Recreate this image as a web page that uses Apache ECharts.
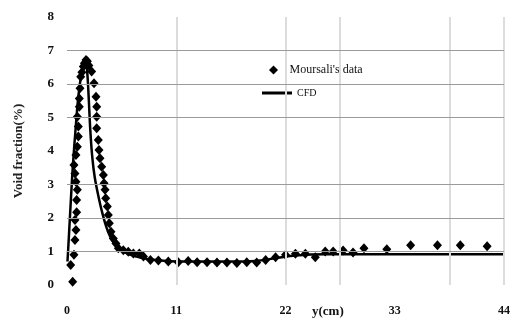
<!DOCTYPE html>
<html><head><meta charset="utf-8">
<script src="https://cdn.jsdelivr.net/npm/echarts@6/dist/echarts.min.js"></script>
<style>html,body{margin:0;padding:0;background:#fff}#c{width:520px;height:320px}</style>
</head><body><div id="c"></div>
<script>
const xTickLabels = [0, 11, 22, 33, 44];
const yTickLabels = [0, 1, 2, 3, 4, 5, 6, 7, 8];
const hGridValues = [1, 2, 3, 5, 6, 7];
const vGridValues = [11, 22, 27.5, 38.5, 44];

const moursaliX = [0.57,0.37,0.7,0.8,0.9,0.8,0.97,0.97,1.04,0.9,0.8,0.7,0.9,1.04,1.14,1.14,1.04,1.24,1.24,1.31,1.38,1.5,1.64,1.75,1.91,2.05,2.2,2.48,2.72,2.92,2.99,2.99,2.99,3.15,3.22,3.32,3.49,3.66,3.73,3.83,3.9,4.06,4.16,4.26,4.43,4.66,4.93,5.17,5.67,6.17,6.68,7.28,7.7,8.4,9.2,10.2,11.2,12.2,13.1,14.1,15.1,16.1,17.1,18.1,19.1,20.0,21.0,22.0,23.0,24.0,25.0,26.0,26.8,27.8,28.8,29.9,32.2,34.6,37.3,39.6,42.3];
const moursaliY = [0.1,0.6,0.9,1.34,1.64,1.94,2.17,2.54,2.84,3.08,3.33,3.58,3.88,4.13,4.43,4.73,5.02,5.32,5.57,5.87,6.22,6.35,6.52,6.62,6.72,6.68,6.55,6.37,6.02,5.62,5.32,5.02,4.68,4.33,4.03,3.78,3.53,3.28,3.04,2.84,2.59,2.34,2.09,1.84,1.59,1.39,1.24,1.1,1.04,0.99,0.94,0.94,0.85,0.75,0.73,0.7,0.68,0.72,0.68,0.68,0.67,0.67,0.66,0.68,0.67,0.75,0.83,0.9,0.93,0.93,0.83,1.0,1.0,1.03,0.97,1.1,1.07,1.19,1.19,1.19,1.16];

const cfdX = [0.05,0.2,0.4,0.6,0.85,1.1,1.4,1.7,1.9,2.05,2.2,2.35,2.55,2.8,3.2,3.6,4.0,4.5,5.0,6,7,8,10,12,16,19,21,23,26,44];
const cfdY = [0.7,1.5,2.6,3.6,4.6,5.5,6.2,6.55,6.6,6.3,5.5,4.6,3.8,3.2,2.6,2.1,1.7,1.35,1.15,0.95,0.85,0.78,0.72,0.7,0.7,0.72,0.8,0.88,0.92,0.92];

const serif = "'Liberation Serif','DejaVu Serif',serif";
const scatterData = moursaliX.map((x, i) => [x, moursaliY[i]]);
const lineData = cfdX.map((x, i) => [x, cfdY[i]]);

const chart = echarts.init(document.getElementById('c'), null, {renderer: 'canvas'});
chart.setOption({
  animation: false,
  backgroundColor: '#fff',
  grid: {left: 67, right: 16, top: 17, bottom: 35},
  xAxis: {
    type: 'value', min: 0, max: 44, interval: 11,
    axisLine: {show: false}, axisTick: {show: false}, splitLine: {show: false},
    axisLabel: {margin: 20, color: '#111', fontFamily: serif, fontWeight: 'bold', fontSize: 12,
      formatter: v => xTickLabels.includes(v) ? String(v) : ''}
  },
  yAxis: {
    type: 'value', min: 0, max: 8, interval: 1,
    name: 'Void fraction(%)', nameLocation: 'middle', nameGap: 42, nameRotate: 90,
    nameTextStyle: {fontFamily: serif, fontWeight: 'bold', fontSize: 13, color: '#222'},
    axisLine: {show: false}, axisTick: {show: false}, splitLine: {show: false},
    axisLabel: {margin: 13, color: '#111', fontFamily: serif, fontWeight: 'bold', fontSize: 13,
      formatter: v => yTickLabels.includes(v) ? String(v) : ''}
  },
  graphic: [{
    type: 'text', left: 312, top: 305,
    style: {text: 'y(cm)', font: "bold 13px 'Liberation Serif', serif", fill: '#111'}
  }],
  legend: [{
    data: [{name: "Moursali's data", icon: 'path://M0,-1L1,0L0,1L-1,0Z', itemStyle: {color: '#000', opacity: 1}}],
    left: 269, top: 64, itemWidth: 22, itemHeight: 9, itemGap: 0, padding: 0,
    textStyle: {fontFamily: serif, fontSize: 12, color: '#111'}
  }, {
    data: [{name: 'CFD', icon: 'rect'}],
    left: 262, top: 88, itemWidth: 30, itemHeight: 3, padding: 0,
    textStyle: {fontFamily: serif, fontSize: 10, color: '#111'}
  }],
  series: [{
    type: 'line', data: [], z: 0, silent: true,
    markLine: {
      silent: true, symbol: 'none', label: {show: false}, animation: false,
      data: [
        ...vGridValues.map(v => ({xAxis: v, lineStyle: {color: '#dcdcdc', width: 2, type: 'solid'}})),
        ...hGridValues.map(v => ({yAxis: v, lineStyle: {color: '#9a9a9a', width: 1.2, type: 'solid'}}))
      ]
    }
  }, {
    name: "Moursali's data", type: 'scatter', data: scatterData,
    symbol: 'diamond', symbolSize: [9, 10], itemStyle: {color: '#000', opacity: 1}, z: 3
  }, {
    name: 'CFD', type: 'line', data: lineData, showSymbol: false, smooth: 0.3,
    lineStyle: {color: '#000', width: 2.5}, itemStyle: {color: '#000'}, z: 2
  }]
});
</script></body></html>
